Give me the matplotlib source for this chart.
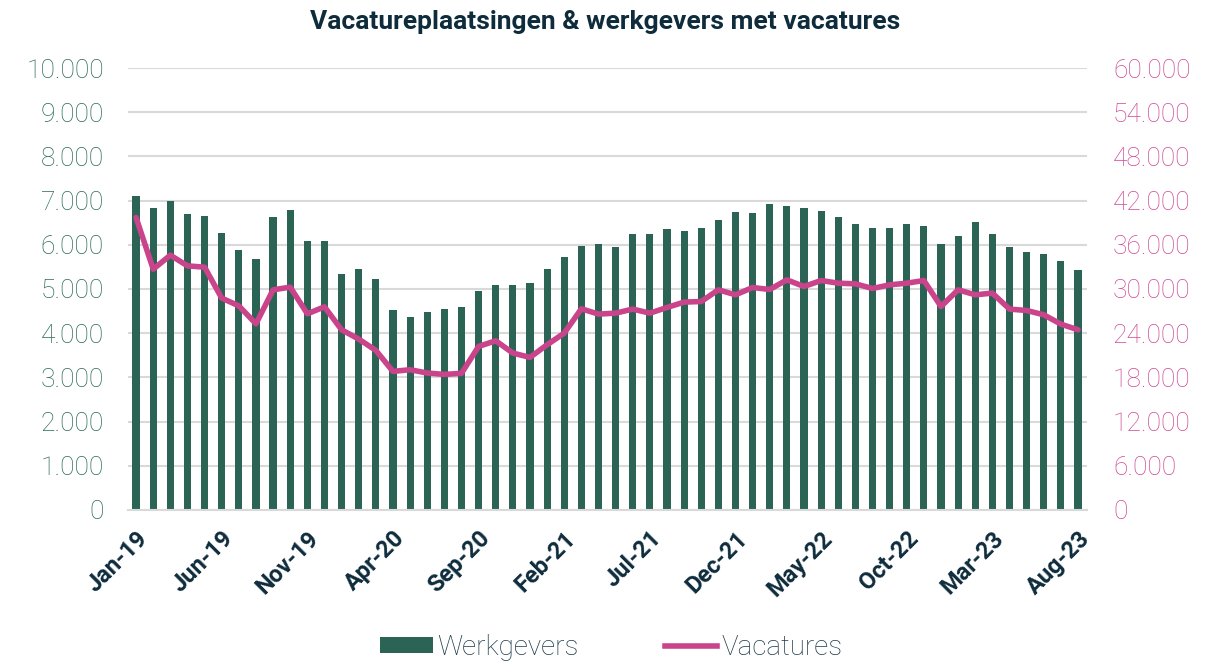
import numpy as np
import matplotlib.pyplot as plt
from matplotlib.ticker import FuncFormatter
from matplotlib.lines import Line2D
from matplotlib.patches import Patch

months = ['Jan', 'Feb', 'Mar', 'Apr', 'May', 'Jun', 'Jul', 'Aug', 'Sep', 'Oct', 'Nov', 'Dec']
labels = [f"{m}-{y}" for y in ['19', '20', '21', '22', '23'] for m in months][:56]

werkgevers = [7110, 6830, 6990, 6690, 6650, 6260, 5880, 5670, 6630, 6790, 6080, 6080,
              5350, 5460, 5230, 4520, 4360, 4480, 4540, 4585, 4960, 5100, 5095, 5130,
              5455, 5735, 5975, 6020, 5945, 6255, 6255, 6360, 6315, 6385, 6555, 6735,
              6715, 6915, 6870, 6825, 6765, 6625, 6480, 6375, 6390, 6470, 6435, 6015,
              6200, 6515, 6245, 5955, 5845, 5790, 5630, 5435]

vacatures = [39700, 32690, 34590, 33140, 32960, 28760, 27710, 25270, 29890, 30250, 26630, 27580,
             24460, 23200, 21660, 18810, 19040, 18590, 18400, 18550, 22200, 22970, 21300, 20710,
             22430, 24010, 27310, 26590, 26720, 27270, 26720, 27490, 28220, 28300, 29890, 29210,
             30200, 29930, 31240, 30340, 31150, 30790, 30700, 30070, 30560, 30790, 31150, 27620,
             29890, 29210, 29440, 27270, 27080, 26500, 25230, 24460]

green = '#2B6455'
pink = '#C9448A'
navy = '#0E2C3C'

plt.rcParams['font.family'] = ['Roboto', 'DejaVu Sans']

fig = plt.figure(figsize=(12.18, 6.61), dpi=100)
ax = fig.add_axes([0.1047, 0.2285, 0.7874, 0.6686])
ax2 = ax.twinx()

x = np.arange(len(werkgevers))
ax.bar(x, werkgevers, width=0.42, color=green, zorder=2)
ax2.plot(x, vacatures, color=pink, lw=4, solid_joinstyle='round', solid_capstyle='round', zorder=3)

ax.set_xlim(-0.5, len(x) - 0.5)
ax.set_ylim(0, 10000)
ax2.set_ylim(0, 60000)
ax.set_yticks(np.arange(0, 10001, 1000))
ax2.set_yticks(np.arange(0, 60001, 6000))

fmt = FuncFormatter(lambda v, p: f"{int(v):,}".replace(',', '.'))
ax.yaxis.set_major_formatter(fmt)
ax2.yaxis.set_major_formatter(fmt)

ax.grid(axis='y', color='#D9D9D9', lw=1.5, zorder=0)
ax.set_axisbelow(True)
for a in (ax, ax2):
    for s in a.spines.values():
        s.set_visible(False)
ax.spines['bottom'].set_visible(True)
ax.spines['bottom'].set_color('#D9D9D9')
ax.spines['bottom'].set_linewidth(1.5)

ax.tick_params(axis='y', length=0, pad=17, labelsize=19, labelcolor='#2A6A58')
ax2.tick_params(axis='y', length=0, pad=19, labelsize=19, labelcolor='#CF4A94')
for t in ax.get_yticklabels() + ax2.get_yticklabels():
    t.set_fontweight('light')

tick_idx = x[::5]
ax.set_xticks(tick_idx)
ax.set_xticklabels([labels[i] for i in tick_idx], rotation=45, ha='right',
                   rotation_mode='anchor', fontsize=17, fontweight='bold', color=navy)
ax.tick_params(axis='x', length=0, pad=12)

fig.suptitle('Vacatureplaatsingen & werkgevers met vacatures', x=0.497, y=0.985,
             fontsize=19, fontweight='bold', color=navy)

handles = [Patch(facecolor=green, label='Werkgevers'),
           Line2D([0], [0], color=pink, lw=4, label='Vacatures')]
leg = fig.legend(handles=handles, loc='lower center', bbox_to_anchor=(0.502, -0.038), ncol=2,
                 frameon=False, fontsize=20, handlelength=1.9, handleheight=0.5,
                 columnspacing=3.1, handletextpad=0.15)
for t in leg.get_texts():
    t.set_color('#1E3A48')
    t.set_fontweight('light')

fig.savefig('out.png', dpi=100)
